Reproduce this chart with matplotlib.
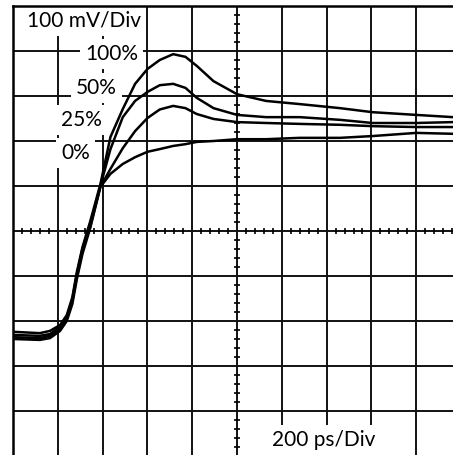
import matplotlib
matplotlib.use("Agg")
import matplotlib.pyplot as plt
import numpy as np

# time in ps (200 ps/Div), voltage in mV (100 mV/Div, 0 at screen centre)
time_ps = [0, 120, 165, 210, 240, 265, 285, 310, 345, 390, 435, 490, 545,
           600, 655, 715, 770, 820, 895, 1000, 1130, 1280, 1460, 1605, 1800, 1964]

trace_100 = [-224, -227, -222, -209, -187, -147, -91, -36, 22, 104, 209, 271, 327,
             360, 380, 393, 387, 367, 333, 304, 289, 282, 273, 264, 258, 253]
trace_50 = [-231, -233, -229, -213, -191, -151, -96, -40, 16, 100, 182, 253, 289,
            309, 324, 327, 318, 296, 273, 258, 253, 253, 247, 240, 240, 242]
trace_25 = [-236, -238, -233, -218, -196, -156, -100, -44, 11, 98, 138, 184, 222,
            251, 270, 278, 273, 260, 249, 242, 240, 238, 236, 233, 231, 231]
trace_0 = [-240, -242, -238, -222, -200, -162, -107, -51, 7, 98, 127, 149, 164,
           176, 182, 189, 193, 198, 200, 204, 204, 207, 207, 211, 218, 216]

labels = ["100%", "50%", "25%", "0%"]
label_pos = [(0.164, 0.893), (0.143, 0.818), (0.109, 0.747), (0.109, 0.673)]


def main():
    fig = plt.figure(figsize=(4.53, 4.55), dpi=100)
    ax = fig.add_axes([13 / 453, -1 / 455, 440 / 453, 450 / 455])

    ax.set_xlim(0, 1964)
    ax.set_ylim(-500, 500)
    ax.set_xticks(np.arange(0, 2000, 200))
    ax.set_yticks(np.arange(-500, 501, 100))
    ax.tick_params(length=0, labelbottom=False, labelleft=False)
    ax.set_axisbelow(True)
    ax.grid(True, color="#111111", linewidth=1.4)

    for side in ["right", "bottom"]:
        ax.spines[side].set_visible(False)
    for side in ["left", "top"]:
        ax.spines[side].set_linewidth(1.8)

    # minor ticks on the centre cross
    tx = [t for t in range(40, 1964, 40) if t % 200]
    ax.plot(tx, [0] * len(tx), ls="none", marker="|", ms=5, mew=1.2,
            color="black", zorder=1)
    vy = [v for v in range(-480, 500, 20) if v % 100]
    ax.plot([1000] * len(vy), vy, ls="none", marker="_", ms=5, mew=1.2,
            color="black", zorder=1)

    for tr in [trace_100, trace_50, trace_25, trace_0]:
        ax.plot(time_ps, tr, color="black", linewidth=1.8,
                solid_joinstyle="round", zorder=3)

    box = dict(boxstyle="square,pad=0.25", facecolor="white", edgecolor="none")
    font = ["Lato", "DejaVu Sans"]
    ax.text(0.032, 0.967, "100 mV/Div", transform=ax.transAxes, ha="left",
            va="center", fontsize=15, family=font, bbox=box, zorder=2)
    for lab, (x, y) in zip(labels, label_pos):
        ax.text(x, y, lab, transform=ax.transAxes, ha="left", va="center",
                fontsize=15, family=font, bbox=box, zorder=2)
    ax.text(0.589, 0.036, "200 ps/Div", transform=ax.transAxes, ha="left",
            va="center", fontsize=15, family=font, bbox=box, zorder=2)

    fig.savefig("out.png", dpi=100)


if __name__ == "__main__":
    main()
